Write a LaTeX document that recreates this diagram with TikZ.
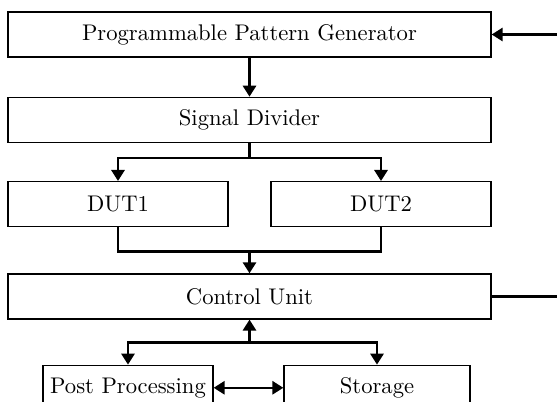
\documentclass[tikz,border=0pt]{standalone}
\usepackage{amsmath}
\usepackage{tikz}
\usetikzlibrary{positioning,arrows.meta}

\tikzset{
  blk/.style={draw, line width=0.6pt, minimum height=0.72cm, inner sep=2pt, font=\fontsize{10.3}{12}\selectfont},
  wide/.style={blk, minimum width=7.728cm},
  dut/.style={blk, minimum width=3.52cm},
  wire/.style={line width=1.1pt, -{Triangle[length=5pt,width=6pt]}},
  bwire/.style={line width=1.1pt, {Triangle[length=5pt,width=6pt]}-{Triangle[length=5pt,width=6pt]}}
}

\begin{document}
\begin{tikzpicture}
            \useasboundingbox (-3.992,0.552) rectangle (4.92,-5.864);
            \clip (-3.992,0.552) rectangle (4.92,-5.864);

            \node[wide]                                  (ppg) {Programmable Pattern Generator};
            \node[wide, below=0.624cm of ppg]            (sd)  {Signal Divider};
            \node[dut, below=0.608cm of sd.south west, anchor=north west] (dut1) {DUT1};
            \node[dut, below=0.608cm of sd.south east, anchor=north east] (dut2) {DUT2};
            \node[wide, below=0.736cm of sd.south |- dut1.south, anchor=north] (cu) {Control Unit};
            \node[blk, minimum width=2.72cm, below=0.72cm of cu.south west, xshift=0.56cm, anchor=north west] (pp) {Post Processing};
            \node[blk, minimum width=2.976cm, below=0.72cm of cu.south east, xshift=-0.336cm, anchor=north east] (st) {Storage};

            \coordinate[below=0.24cm of sd.south]   (fork);
            \coordinate[below=0.384cm of dut1.south] (join);
            \coordinate[below=0.368cm of cu.south]  (split);

            \draw[wire] (ppg) -- (sd);
            \draw[wire] (sd.south) -- (fork) -| (dut1.north);
            \draw[wire] (fork) -| (dut2.north);
            \draw[line width=1.1pt] (dut1.south) |- (join) -| (dut2.south);
            \draw[wire] (sd.south |- join) -- (cu.north);
            \draw[wire] (split) -- (cu.south);
            \draw[wire] (split) -| (pp.north);
            \draw[wire] (split) -| (st.north);
            \draw[bwire] (pp.east) -- (pp.east -| st.west);
            \draw[wire] (cu.east) -- ++(1.2,0) |- (ppg.east);
\end{tikzpicture}
\end{document}
